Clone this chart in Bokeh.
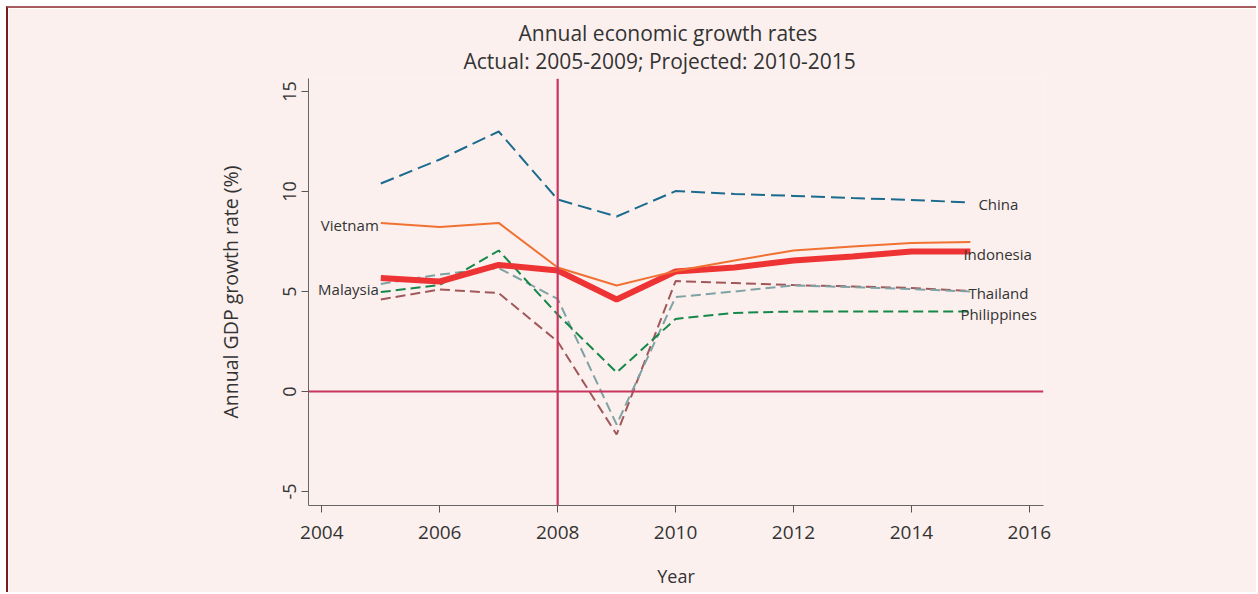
from bokeh.plotting import figure
from bokeh.models import Range1d, Span, Label, FixedTicker, Title
from bokeh.embed import file_html
from bokeh.resources import INLINE

years = [2005, 2006, 2007, 2008, 2009, 2010, 2011, 2012, 2013, 2014, 2015]
china = [10.4, 11.6, 13.0, 9.6, 8.75, 10.02, 9.88, 9.78, 9.67, 9.58, 9.45]
vietnam = [8.42, 8.22, 8.43, 6.2, 5.3, 6.02, 6.55, 7.05, 7.25, 7.42, 7.47]
indonesia = [5.68, 5.5, 6.33, 6.05, 4.6, 6.0, 6.2, 6.55, 6.75, 7.0, 7.0]
malaysia = [5.38, 5.85, 6.17, 4.63, -1.65, 4.72, 5.0, 5.3, 5.22, 5.12, 5.0]
thailand = [4.6, 5.1, 4.92, 2.5, -2.15, 5.52, 5.42, 5.32, 5.25, 5.18, 5.02]
philippines = [4.97, 5.33, 7.05, 3.85, 0.95, 3.63, 3.93, 4.0, 4.0, 4.0, 4.0]

x_ticks = [2004, 2006, 2008, 2010, 2012, 2014, 2016]
y_ticks = [-5, 0, 5, 10, 15]

FONT = "Open Sans"
BG = "#fbf0ee"
TXT = "#333333"

p = figure(width=1250, height=586, output_backend="svg", toolbar_location=None,
           x_range=Range1d(2003.774, 2016.24), y_range=Range1d(-5.7, 15.65),
           min_border_left=300, min_border_right=215, min_border_top=70, min_border_bottom=89)
p.margin = (6, 0, 0, 6)
p.styles = {"border-top": "2px solid #a65b5e", "border-left": "2px solid #7b1c1c"}
p.background_fill_color = BG
p.border_fill_color = BG
p.outline_line_color = None
p.grid.visible = False
p.title = None

sub = Title(text="Actual: 2005-2009; Projected: 2010-2015", align="left", offset=155,
            text_font=FONT, text_font_size="21px", text_font_style="normal",
            text_color=TXT, standoff=8)
main = Title(text="Annual economic growth rates", align="left", offset=210,
             text_font=FONT, text_font_size="21px", text_font_style="normal",
             text_color=TXT, standoff=-12)
p.add_layout(sub, "above")
p.add_layout(main, "above")

for ax in (p.xaxis[0], p.yaxis[0]):
    ax.axis_line_color = "#666666"
    ax.major_tick_line_color = "#555555"
    ax.major_tick_out = 7
    ax.major_tick_in = 0
    ax.minor_tick_line_color = None
    ax.major_label_text_font = FONT
    ax.major_label_text_color = TXT
    ax.axis_label_text_font = FONT
    ax.axis_label_text_font_style = "normal"
    ax.axis_label_text_color = TXT

p.xaxis.ticker = FixedTicker(ticks=x_ticks)
p.xaxis.major_label_text_font_size = "19px"
p.xaxis.axis_label = "Year"
p.xaxis.axis_label_text_font_size = "18px"
p.xaxis.major_label_standoff = 13
p.xaxis.axis_label_standoff = 22

p.yaxis.ticker = FixedTicker(ticks=y_ticks)
p.yaxis.major_label_text_font_size = "18px"
p.yaxis.major_label_overrides = {t: str(t) for t in y_ticks}
p.yaxis.major_label_orientation = "vertical"
p.yaxis.axis_label = "Annual GDP growth rate (%)"
p.yaxis.axis_label_text_font_size = "19.5px"
p.yaxis.major_label_standoff = 6
p.yaxis.axis_label_standoff = 36

p.line(years, china, line_color="#1b6b8e", line_width=2, line_dash="14 6")
p.line(years, thailand, line_color="#a0585b", line_width=2, line_dash="10 5")
p.line(years, malaysia, line_color="#7fa2a4", line_width=2, line_dash="10 5")
p.line(years, philippines, line_color="#16884a", line_width=2, line_dash="10 5")
p.line(years, indonesia, line_color="#ee3334", line_width=6)
p.line(years, vietnam, line_color="#f07132", line_width=2)

p.add_layout(Span(location=0, dimension="width", line_color="#c8365e", line_width=2.2))
p.add_layout(Span(location=2008, dimension="height", line_color="#c8365e", line_width=2.2))

labels = [
    ("Vietnam", years[0], vietnam[0], -2, -2, "right"),
    ("Malaysia", years[0], malaysia[0], -2, -5, "right"),
    ("China", years[-1], china[-1], 8, -1, "left"),
    ("Indonesia", years[-1], indonesia[-1], -7, -2, "left"),
    ("Thailand", years[-1], thailand[-1], -2, -2, "left"),
    ("Philippines", years[-1], philippines[-1], -10, -2, "left"),
]
for txt, lx, ly, dx, dy, al in labels:
    p.add_layout(Label(x=lx, y=ly, text=txt, x_offset=dx, y_offset=dy, text_align=al,
                       text_baseline="middle", text_font=FONT, text_font_size="15px",
                       text_color=TXT))

open("out.html", "w").write(file_html(p, INLINE))
